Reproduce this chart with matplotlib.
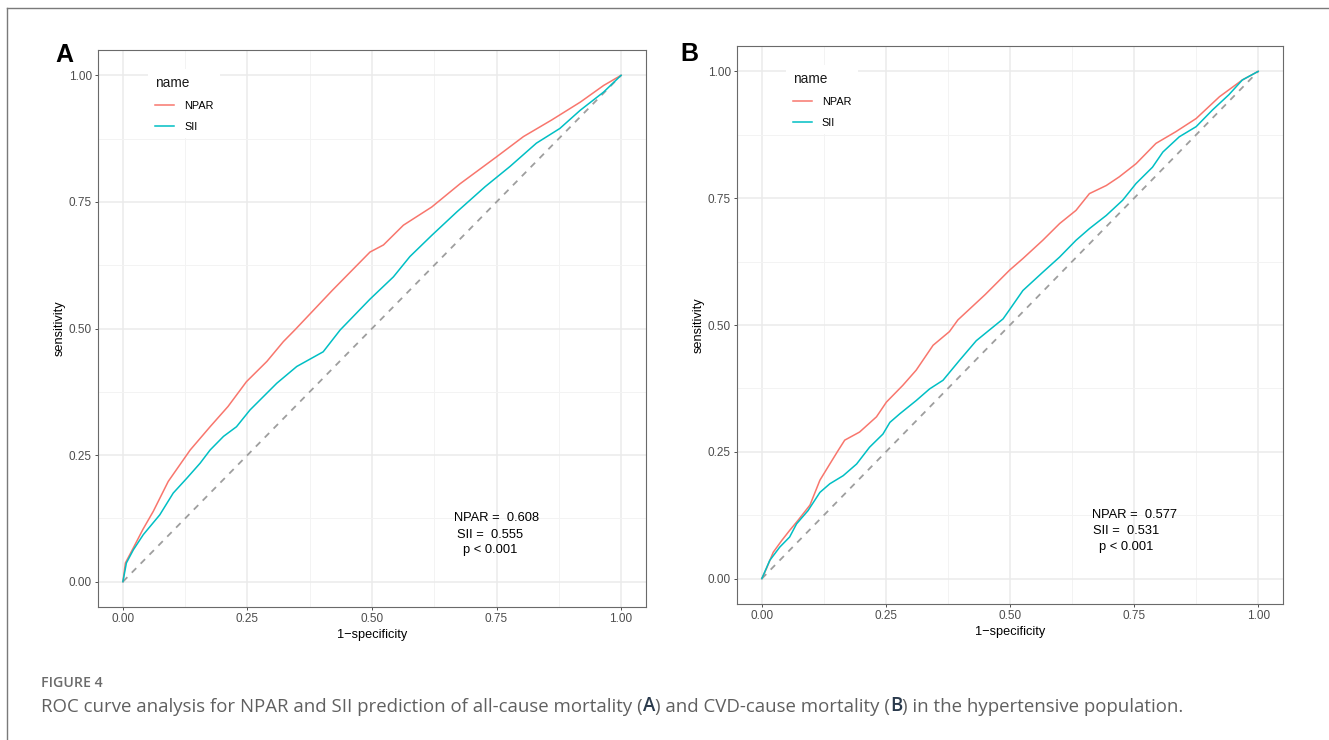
import matplotlib
matplotlib.use("Agg")
import matplotlib.pyplot as plt
from matplotlib.lines import Line2D
from matplotlib.ticker import MultipleLocator

plt.rcParams['font.family'] = ['Liberation Sans', 'DejaVu Sans']

# ---- data (1-specificity, sensitivity) ----
a_npar_fpr = [0, 0.005, 0.02, 0.04, 0.061, 0.091, 0.135, 0.175, 0.211, 0.248, 0.289, 0.322,
              0.345, 0.42, 0.496, 0.523, 0.563, 0.620, 0.677, 0.750, 0.804, 0.861, 0.918, 0.965, 1.0]
a_npar_tpr = [0, 0.037, 0.065, 0.103, 0.139, 0.198, 0.26, 0.306, 0.346, 0.395, 0.435, 0.474,
              0.497, 0.575, 0.651, 0.665, 0.704, 0.740, 0.786, 0.839, 0.879, 0.912, 0.947, 0.980, 1.0]

a_sii_fpr = [0, 0.007, 0.021, 0.041, 0.074, 0.101, 0.128, 0.155, 0.175, 0.202, 0.228, 0.255, 0.309,
             0.349, 0.402, 0.436, 0.496, 0.543, 0.576, 0.620, 0.670, 0.727, 0.777, 0.830, 0.877,
             0.918, 0.965, 1.0]
a_sii_tpr = [0, 0.037, 0.063, 0.093, 0.132, 0.175, 0.204, 0.234, 0.260, 0.287, 0.306, 0.339, 0.392,
             0.425, 0.454, 0.497, 0.558, 0.602, 0.642, 0.684, 0.730, 0.780, 0.820, 0.866, 0.895,
             0.931, 0.967, 1.0]

b_npar_fpr = [0, 0.009, 0.023, 0.040, 0.056, 0.073, 0.097, 0.117, 0.137, 0.154, 0.167, 0.197, 0.231,
              0.251, 0.284, 0.311, 0.345, 0.378, 0.395, 0.45, 0.499, 0.526, 0.566, 0.600, 0.633,
              0.660, 0.694, 0.720, 0.754, 0.794, 0.834, 0.875, 0.922, 0.968, 1.0]
b_npar_tpr = [0, 0.019, 0.052, 0.075, 0.095, 0.115, 0.145, 0.194, 0.226, 0.253, 0.273, 0.289, 0.319,
              0.348, 0.381, 0.411, 0.460, 0.487, 0.510, 0.56, 0.608, 0.631, 0.667, 0.700, 0.726,
              0.759, 0.775, 0.792, 0.818, 0.858, 0.881, 0.907, 0.950, 0.983, 1.0]

b_sii_fpr = [0, 0.016, 0.036, 0.056, 0.070, 0.093, 0.117, 0.137, 0.164, 0.191, 0.217, 0.244, 0.258,
             0.278, 0.311, 0.338, 0.365, 0.398, 0.432, 0.486, 0.499, 0.526, 0.566, 0.600, 0.633,
             0.660, 0.694, 0.727, 0.754, 0.787, 0.808, 0.841, 0.875, 0.908, 0.941, 0.968, 1.0]
b_sii_tpr = [0, 0.036, 0.062, 0.082, 0.108, 0.134, 0.170, 0.187, 0.203, 0.226, 0.259, 0.285, 0.308,
             0.325, 0.351, 0.374, 0.391, 0.430, 0.469, 0.512, 0.530, 0.568, 0.604, 0.634, 0.667,
             0.690, 0.716, 0.746, 0.779, 0.811, 0.841, 0.871, 0.891, 0.924, 0.954, 0.983, 1.0]

series_names = ['NPAR', 'SII']
series_colors = ['#F8766D', '#00BFC4']
panel_letters = ['A', 'B']
auc_labels = [['NPAR =  0.608', 'SII =  0.555', 'p < 0.001'],
              ['NPAR =  0.577', 'SII =  0.531', 'p < 0.001']]
ticks = [0, 0.25, 0.5, 0.75, 1.0]
tick_labels = ['0.00', '0.25', '0.50', '0.75', '1.00']

fig = plt.figure(figsize=(13.29, 7.40), dpi=100)

# figure frame (top and left edge of the page box)
fig.add_artist(Line2D([7 / 1329, 1.0], [1 - 8 / 740, 1 - 8 / 740], color='#7a7a7a', lw=1.0))
fig.add_artist(Line2D([7 / 1329, 7 / 1329], [0, 1 - 8 / 740], color='#7a7a7a', lw=1.0))

ax_a = fig.add_axes([98 / 1329, 133 / 740, 548 / 1329, 557 / 740])
ax_b = fig.add_axes([737 / 1329, 136 / 740, 546 / 1329, 558 / 740])

panels = [
    (ax_a, [(a_npar_fpr, a_npar_tpr), (a_sii_fpr, a_sii_tpr)]),
    (ax_b, [(b_npar_fpr, b_npar_tpr), (b_sii_fpr, b_sii_tpr)]),
]
# x position of each annotation line (centre), y of each line
text_x = [[0.751, 0.737, 0.737], [0.750, 0.733, 0.734]]
text_y = [0.125, 0.093, 0.062]
legend_anchor = [(0.082, 0.975), (0.080, 0.975)]

for i, (ax, curves) in enumerate(panels):
    ax.set_xlim(-0.05, 1.05)
    ax.set_ylim(-0.05, 1.05)
    ax.xaxis.set_minor_locator(MultipleLocator(0.125))
    ax.yaxis.set_minor_locator(MultipleLocator(0.125))
    ax.set_xticks(ticks)
    ax.set_xticklabels(tick_labels)
    ax.set_yticks(ticks)
    ax.set_yticklabels(tick_labels)
    ax.grid(which='major', color='#EBEBEB', lw=1.1)
    ax.grid(which='minor', color='#F3F3F3', lw=0.7)
    ax.set_axisbelow(True)
    ax.tick_params(which='major', length=2.5, width=0.6, color='#333333',
                   labelcolor='#4D4D4D', labelsize=8.5, pad=2)
    ax.tick_params(which='minor', length=0)
    for sp in ax.spines.values():
        sp.set_color('#6a6a6a')
        sp.set_linewidth(0.8)

    ax.plot([0, 1], [0, 1], color='#9E9E9E', lw=1.3, ls=(0, (3.5, 3.5)), zorder=2)
    handles = []
    for (fpr, tpr), name, col in zip(curves, series_names, series_colors):
        h, = ax.plot(fpr, tpr, color=col, lw=1.1, label=name, zorder=3)
        handles.append(h)

    leg = ax.legend(handles=handles, title='name', loc='upper left',
                    bbox_to_anchor=legend_anchor[i], frameon=True, fancybox=False,
                    edgecolor='none', facecolor='white', framealpha=1,
                    fontsize=7.8, title_fontsize=9.8, handlelength=1.8,
                    labelspacing=1.0, borderpad=0.6, handletextpad=0.9,
                    alignment='left')
    leg.get_title().set_color('#1a1a1a')

    for j, line in enumerate(auc_labels[i]):
        ax.text(text_x[i][j], text_y[j], line, ha='center', va='center',
                fontsize=9.3, color='black')

    ax.set_xlabel('1\u2212specificity', fontsize=9.2, labelpad=3)
    ax.set_ylabel('sensitivity', fontsize=9.2, labelpad=2)

fig.text(64 / 1329, 1 - 55 / 740, panel_letters[0], fontsize=18, fontweight='bold',
         ha='center', va='center')
fig.text(689 / 1329, 1 - 54 / 740, panel_letters[1], fontsize=18, fontweight='bold',
         ha='center', va='center')

# caption
cap_font = ['Open Sans', 'DejaVu Sans']
fig.text(41 / 1329, 1 - 683 / 740, 'FIGURE 4', family=cap_font, fontsize=10.2,
         fontweight='semibold', color='#6b6b6b', va='center')

parts = [('ROC curve analysis for NPAR and SII prediction of all-cause mortality (', '#606060', 'normal'),
         ('A', '#2a3a4c', 'semibold'),
         (') and CVD-cause mortality (', '#606060', 'normal'),
         ('B', '#2a3a4c', 'semibold'),
         (') in the hypertensive population.', '#606060', 'normal')]
prev = fig.text(41 / 1329, 1 - 712 / 740, parts[0][0], family=cap_font, fontsize=13.4,
                color=parts[0][1], va='baseline')
for txt, col, wt in parts[1:]:
    prev = fig.text(0, 0, '') if False else plt.annotate(
        txt, xy=(1, 0), xycoords=prev, xytext=(0, 0), textcoords='offset points',
        va='bottom', ha='left', family=cap_font, fontsize=13.4, color=col, fontweight=wt,
        annotation_clip=False)

fig.savefig('out.png', dpi=100)
